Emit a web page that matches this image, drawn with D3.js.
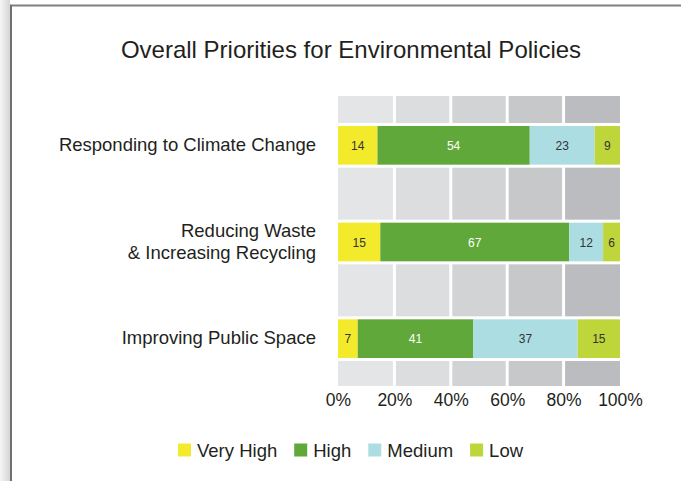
<!DOCTYPE html>
<html>
<head>
<meta charset="utf-8">
<script src="https://cdn.jsdelivr.net/npm/d3@7/dist/d3.min.js"></script>
<style>
  html, body { margin: 0; padding: 0; background: #fff; }
  svg { display: block; }
  text { font-family: "Liberation Sans", Arial, Helvetica, sans-serif; }
</style>
</head>
<body>
<svg id="chart" width="681" height="481"></svg>
<script>
// ---- data ----
const title = "Overall Priorities for Environmental Policies";
const categories = ["Responding to Climate Change", "Reducing Waste\n& Increasing Recycling", "Improving Public Space"];
const seriesNames = ["Very High", "High", "Medium", "Low"];
const veryHigh = [14, 15, 7];
const high = [54, 67, 41];
const medium = [23, 12, 37];
const low = [9, 6, 15];
const tickValues = [0, 20, 40, 60, 80, 100];
const tickLabels = ["0%", "20%", "40%", "60%", "80%", "100%"];

// ---- styles ----
const colors = ["#f3ea2c", "#60a83a", "#acdde3", "#bfd63a"];
const labelColors = ["#333", "#fff", "#333", "#333"];
const columnColors = ["#e4e5e7", "#dcdddf", "#d2d3d5", "#c7c8ca", "#bbbcbf"];

const svg = d3.select("#chart");

// frame & shadow
const defs = svg.append("defs");
const grad = defs.append("linearGradient").attr("id", "shadow").attr("x1", 0).attr("x2", 1).attr("y1", 0).attr("y2", 0);
grad.append("stop").attr("offset", "0%").attr("stop-color", "#f6f6f6");
grad.append("stop").attr("offset", "100%").attr("stop-color", "#d4d5d7");
svg.append("rect").attr("x", 0).attr("y", 0).attr("width", 10).attr("height", 481).attr("fill", "url(#shadow)");
svg.append("line").attr("x1", 10).attr("x2", 681).attr("y1", 5.5).attr("y2", 5.5).attr("stroke", "#808080").attr("stroke-width", 2);
svg.append("line").attr("x1", 11).attr("x2", 11).attr("y1", 5).attr("y2", 481).attr("stroke", "#707070").attr("stroke-width", 2);

// title
svg.append("text").attr("x", 351).attr("y", 58).attr("text-anchor", "middle")
  .attr("font-size", 24).attr("fill", "#231f20").text(title);

// scales
const x = d3.scaleLinear().domain([0, 100]).range([338, 620]);
const y = d3.scaleBand().domain(d3.range(categories.length)).range([97, 387]).paddingInner(0.6).paddingOuter(0.3);

// background columns
const g = svg.append("g");
const cols = d3.range(5);
g.selectAll("rect.col").data(cols).enter().append("rect")
  .attr("class", "col")
  .attr("x", i => x(tickValues[i]) + (i === 0 ? 0 : 1.5))
  .attr("width", i => x(tickValues[i + 1]) - x(tickValues[i]) - (i === 0 ? 1.5 : 3) + (i === 4 ? 1.5 : 0))
  .attr("y", 96).attr("height", 290)
  .attr("fill", (d, i) => columnColors[i]);

// stacked data
const rows = categories.map((c, i) => ({ i, vals: [veryHigh[i], high[i], medium[i], low[i]] }));
rows.forEach(r => {
  let acc = 0;
  r.segs = r.vals.map((v, k) => { const s = { k, v, x0: acc, x1: acc + v, row: r.i }; acc += v; return s; });
});

// white separators around bars
g.selectAll("rect.sep").data(rows).enter().append("rect")
  .attr("x", x(0)).attr("width", x(100) - x(0))
  .attr("y", r => y(r.i) - 3).attr("height", y.bandwidth() + 6).attr("fill", "#fff");

const segs = rows.flatMap(r => r.segs);
g.selectAll("rect.seg").data(segs).enter().append("rect")
  .attr("x", s => x(s.x0)).attr("width", s => x(s.x1) - x(s.x0))
  .attr("y", s => y(s.row)).attr("height", y.bandwidth())
  .attr("fill", s => colors[s.k]);

g.selectAll("text.val").data(segs).enter().append("text")
  .attr("x", s => (x(s.x0) + x(s.x1)) / 2)
  .attr("y", s => y(s.row) + y.bandwidth() / 2 + 4.5)
  .attr("text-anchor", "middle").attr("font-size", 12)
  .attr("fill", s => labelColors[s.k]).text(s => s.v);

// category labels
categories.forEach((c, i) => {
  const lines = c.split("\n");
  const cy = y(i) + y.bandwidth() / 2;
  const lh = 22;
  lines.forEach((ln, j) => {
    svg.append("text").attr("x", 316).attr("text-anchor", "end")
      .attr("y", cy + 5.5 + (j - (lines.length - 1) / 2) * lh)
      .attr("font-size", 18.5).attr("fill", "#231f20").text(ln);
  });
});

// x axis
const axis = d3.axisBottom(x).tickValues(tickValues).tickFormat((d, i) => tickLabels[i]).tickSize(0).tickPadding(0);
const ax = svg.append("g").attr("transform", "translate(0,392)").call(axis);
ax.select(".domain").remove();
ax.selectAll("text").attr("font-size", 17.5).attr("fill", "#231f20").attr("dy", "0.8em")
  .style("font-family", "'Liberation Sans', Arial, sans-serif");

// legend
const legend = svg.append("g").attr("transform", "translate(0,450)");
let lx = 178;
seriesNames.forEach((n, k) => {
  legend.append("rect").attr("x", lx).attr("y", -6.5).attr("width", 13).attr("height", 13).attr("fill", colors[k]);
  const t = legend.append("text").attr("x", lx + 19).attr("y", 6.5).attr("font-size", 18.5).attr("fill", "#231f20").text(n);
  lx += 19 + t.node().getComputedTextLength() + 17;
});
</script>
</body>
</html>
